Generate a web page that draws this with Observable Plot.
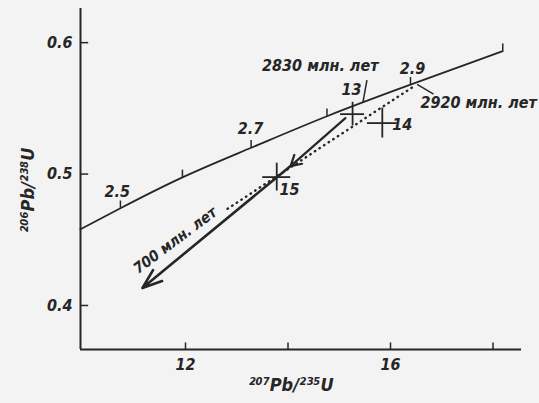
<!DOCTYPE html>
<html><head><meta charset="utf-8">
<script src="https://cdn.jsdelivr.net/npm/d3@7"></script>
<script src="https://cdn.jsdelivr.net/npm/@observablehq/plot@0.6"></script>
<style>
html,body{margin:0;padding:0;background:#f3f3f3;}
</style></head>
<body><div id="chart"></div>
<script>
// Axis ranges and ticks
const xDomain = [9.951, 18.556];
const yDomain = [0.3665, 0.626];
const xTicks = [12, 14, 16, 18];
const xTickLabels = ["12", "16"];
const xTickLabelValues = [12, 16];
const yTicks = [0.4, 0.5, 0.6];
const yTickLabels = ["0.4", "0.5", "0.6"];

// Concordia curve
const concX = [9.95, 10.73, 11.94, 13.28, 14.76, 16.39, 18.19];
const concY = [0.458, 0.474, 0.4975, 0.520, 0.544, 0.568, 0.5935];
// age ticks on concordia (Ga)
const ageTickX = [10.73, 11.94, 13.28, 14.76, 16.39, 18.19];
const ageTickY = [0.474, 0.4975, 0.520, 0.544, 0.568, 0.5935];
const ageLabels = ["2.5", "2.7", "2.9"];
const ageLabelX = [10.67, 13.27, 16.43];
const ageLabelY = [0.4863, 0.5342, 0.5798];

// Samples with error crosses
const samples = ["13", "14", "15"];
const sampleX = [15.26, 15.84, 13.78];
const sampleY = [0.5456, 0.5388, 0.4977];
const sampleXErr = [0.234, 0.29, 0.273];
const sampleYErr = [0.009, 0.0114, 0.0106];
const sampleLabelX = [15.24, 16.23, 14.03];
const sampleLabelY = [0.5639, 0.5373, 0.4878];

// Discordia (dotted)
const discX = [12.82, 16.49];
const discY = [0.4736, 0.5677];
// Solid arrow path: start near 13, mid-arrow near 15, end
const arrowX = [15.12, 14.05, 11.16];
const arrowY = [0.5426, 0.5061, 0.4133];

// Annotations
const annText = ["2830 млн. лет", "2920 млн. лет"];
const annX = [14.63, 17.72];
const annY = [0.5821, 0.554];
const leaderX1 = [15.54, 16.52];
const leaderY1 = [0.5715, 0.5682];
const leaderX2 = [15.46, 16.84];
const leaderY2 = [0.5542, 0.5608];
const rotText = ["700 млн. лет"];
const rotX = [11.80];
const rotY = [0.4495];

const xTitle = "²⁰⁷Pb/²³⁵U";
const yTitle = "²⁰⁶Pb/²³⁸U";

const ink = "#262626";
const font = "DejaVu Sans Condensed";
const txt = {fontSize: 16, fontStyle: "italic", fontWeight: "bold", fill: ink, fontFamily: font};

const idx = a => a.map((_, i) => i);

const chart = Plot.plot({
  width: 539, height: 403,
  marginLeft: 80, marginRight: 18, marginTop: 8, marginBottom: 54,
  x: {domain: xDomain, axis: null},
  y: {domain: yDomain, axis: null},
  style: {background: "#f3f3f3", fontFamily: font},
  marks: [
    // axes lines
    Plot.ruleX([xDomain[0]], {y1: yDomain[0], y2: yDomain[1], stroke: ink, strokeWidth: 2}),
    Plot.ruleY([yDomain[0]], {x1: xDomain[0], x2: xDomain[1], stroke: ink, strokeWidth: 2}),
    Plot.ruleX(xTicks, {y1: yDomain[0], y2: yDomain[0] + 0.005, stroke: ink, strokeWidth: 1.5}),
    Plot.ruleY(yTicks, {x1: xDomain[0], x2: xDomain[0] + 0.16, stroke: ink, strokeWidth: 1.5}),
    Plot.text(xTickLabels, {x: (d, i) => xTickLabelValues[i], y: yDomain[0], dy: 15, text: d => d, ...txt}),
    Plot.text(yTickLabels, {x: xDomain[0], y: (d, i) => yTicks[i], dx: -8, textAnchor: "end", text: d => d, ...txt}),
    Plot.text([xTitle], {x: (xDomain[0] + xDomain[1]) / 2, y: yDomain[0], dx: -10, dy: 36, text: d => d, ...txt, fontSize: 18}),
    Plot.text([yTitle], {x: xDomain[0], y: 0.4877, dx: -52, rotate: -90, text: d => d, ...txt, fontSize: 18}),
    // concordia
    Plot.line(idx(concX), {x: i => concX[i], y: i => concY[i], curve: "natural", stroke: ink, strokeWidth: 1.8}),
    Plot.ruleX(idx(ageTickX), {x: i => ageTickX[i], y1: i => ageTickY[i], y2: i => ageTickY[i] + 0.0055, stroke: ink, strokeWidth: 1.5}),
    Plot.text(ageLabels, {x: (d, i) => ageLabelX[i], y: (d, i) => ageLabelY[i], text: d => d, ...txt}),
    // discordia dotted
    Plot.line(idx(discX), {x: i => discX[i], y: i => discY[i], stroke: ink, strokeWidth: 2.4, strokeDasharray: "0.5,5", strokeLinecap: "round"}),
    // solid arrows
    Plot.arrow([0], {x1: arrowX[0], y1: arrowY[0], x2: arrowX[1], y2: arrowY[1], stroke: ink, strokeWidth: 2.2, headLength: 8, bend: false}),
    Plot.arrow([0], {x1: arrowX[1], y1: arrowY[1], x2: arrowX[2], y2: arrowY[2], stroke: ink, strokeWidth: 2.6, headLength: 12, headAngle: 40, bend: false}),
    // error crosses
    Plot.ruleY(idx(sampleX), {y: i => sampleY[i], x1: i => sampleX[i] - sampleXErr[i], x2: i => sampleX[i] + sampleXErr[i], stroke: ink, strokeWidth: 1.8}),
    Plot.ruleX(idx(sampleX), {x: i => sampleX[i], y1: i => sampleY[i] - sampleYErr[i], y2: i => sampleY[i] + sampleYErr[i], stroke: ink, strokeWidth: 1.8}),
    Plot.text(samples, {x: (d, i) => sampleLabelX[i], y: (d, i) => sampleLabelY[i], text: d => d, ...txt}),
    // annotations
    Plot.link(idx(leaderX1), {x1: i => leaderX1[i], y1: i => leaderY1[i], x2: i => leaderX2[i], y2: i => leaderY2[i], stroke: ink, strokeWidth: 1.5}),
    Plot.text(annText, {x: (d, i) => annX[i], y: (d, i) => annY[i], text: d => d, ...txt}),
    Plot.text(rotText, {x: (d, i) => rotX[i], y: (d, i) => rotY[i], rotate: -37, text: d => d, ...txt, fontSize: 15})
  ]
});
document.getElementById("chart").append(chart);
</script>
</body></html>
